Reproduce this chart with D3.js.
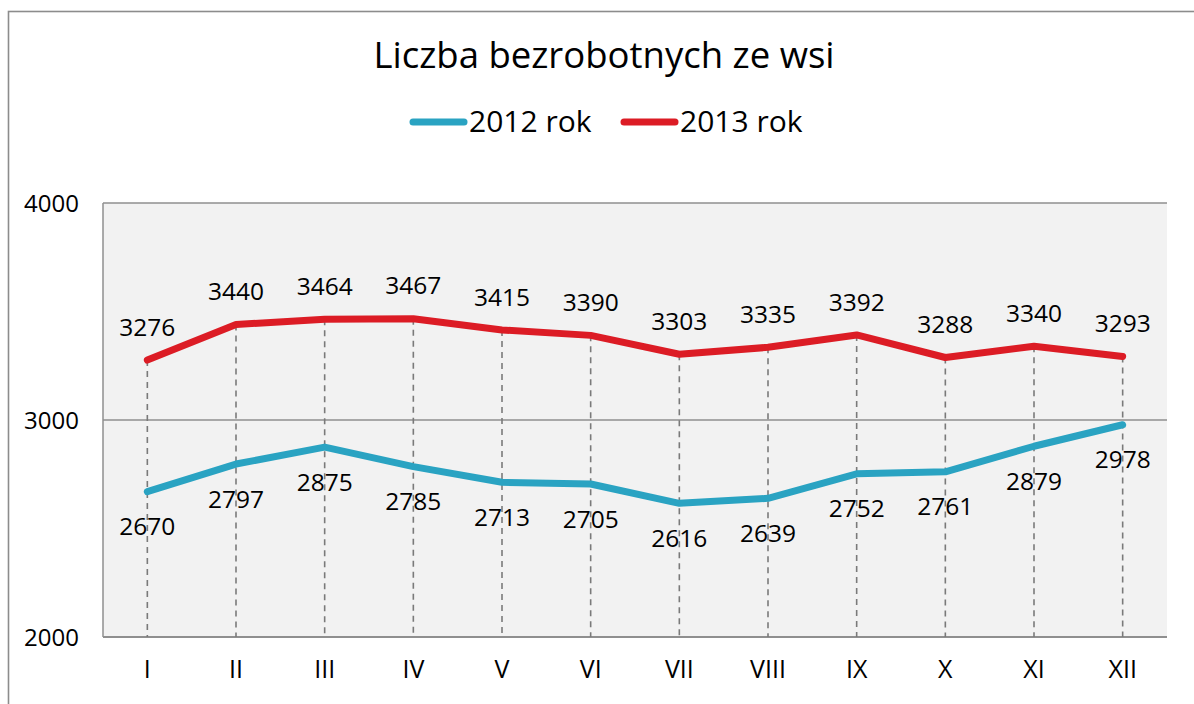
<!DOCTYPE html>
<html><head><meta charset="utf-8">
<script src="https://cdn.jsdelivr.net/npm/d3@7"></script>
<style>
html,body{margin:0;padding:0;background:#fff;}
svg{display:block;font-family:"Open Sans","Noto Sans",sans-serif;}
</style></head>
<body>
<svg id="c" width="1194" height="704"></svg>
<script>
const title = "Liczba bezrobotnych ze wsi";
const months = ["I","II","III","IV","V","VI","VII","VIII","IX","X","XI","XII"];
const series2012 = [2670,2797,2875,2785,2713,2705,2616,2639,2752,2761,2879,2978];
const series2013 = [3276,3440,3464,3467,3415,3390,3303,3335,3392,3288,3340,3293];
const seriesNames = ["2012 rok","2013 rok"];
const yTicks = [2000,3000,4000];

const colors = ["#2aa3c2","#dc1c25"];
const svg = d3.select("#c");

// outer frame
svg.append("rect").attr("x",8.5).attr("y",11.5).attr("width",1400).attr("height",900)
  .attr("fill","none").attr("stroke","#8c8c8c").attr("stroke-width",1.6);

const L=103,R=1167,T=203,B=637;
const x = d3.scaleBand().domain(months).range([L,R]).padding(0);
const cx = m => x(m)+x.bandwidth()/2;
const y = d3.scaleLinear().domain([2000,4000]).range([B,T]);

// plot background
svg.append("rect").attr("x",L).attr("y",T).attr("width",R-L).attr("height",B-T).attr("fill","#f2f2f2");

// gridlines
svg.append("g").selectAll("line").data(yTicks.filter(t=>t>2000)).join("line")
  .attr("x1",L).attr("x2",R).attr("y1",d=>y(d)).attr("y2",d=>y(d))
  .attr("stroke","#8f8f8f").attr("stroke-width",1.5);

// left border & bottom axis
svg.append("line").attr("x1",L).attr("x2",L).attr("y1",T).attr("y2",B).attr("stroke","#8f8f8f").attr("stroke-width",1.5);
svg.append("line").attr("x1",L).attr("x2",R).attr("y1",B).attr("y2",B).attr("stroke","#8f8f8f").attr("stroke-width",2);

// drop lines
const topVals = months.map((m,i)=>Math.max(series2012[i],series2013[i]));
svg.append("g").selectAll("line").data(months).join("line")
  .attr("x1",d=>cx(d)).attr("x2",d=>cx(d))
  .attr("y1",(d,i)=>y(topVals[i])).attr("y2",B)
  .attr("stroke","#7a7a7a").attr("stroke-width",1.6).attr("stroke-dasharray","6,5");

// y axis labels
const yAxis = d3.axisLeft(y).tickValues(yTicks).tickFormat(d3.format("d")).tickSize(0).tickPadding(0);
const ya = svg.append("g").attr("transform","translate(79,0)").call(yAxis);
ya.select(".domain").remove();
ya.selectAll("text").attr("font-size",24).attr("fill","#000").attr("font-family","Open Sans").attr("dy","0.35em");

// x axis labels
const xAxis = d3.axisBottom(x).tickSize(0).tickPadding(0);
const xa = svg.append("g").attr("transform",`translate(0,${B})`).call(xAxis);
xa.select(".domain").remove();
xa.selectAll("text").attr("font-size",25).attr("fill","#000").attr("font-family","Open Sans").attr("y",32).attr("dy","0.35em");

// lines
const line = d3.line().x((d,i)=>cx(months[i])).y(d=>y(d));
[series2012,series2013].forEach((s,k)=>{
  svg.append("path").datum(s).attr("d",line).attr("fill","none")
    .attr("stroke",colors[k]).attr("stroke-width",7).attr("stroke-linecap","round").attr("stroke-linejoin","round");
});

// data labels
svg.append("g").selectAll("text").data(series2013).join("text")
  .attr("x",(d,i)=>cx(months[i])).attr("y",d=>y(d)-33).attr("dy","0.35em")
  .attr("text-anchor","middle").attr("font-size",24.5).text(d=>d);
svg.append("g").selectAll("text").data(series2012).join("text")
  .attr("x",(d,i)=>cx(months[i])).attr("y",d=>y(d)+35).attr("dy","0.35em")
  .attr("text-anchor","middle").attr("font-size",24.5).text(d=>d);

// title
svg.append("text").attr("x",604).attr("y",55).attr("dy","0.35em").attr("text-anchor","middle")
  .attr("font-size",36.5).text(title);

// legend
const leg = [{x:410},{x:621}];
seriesNames.forEach((n,k)=>{
  const g = svg.append("g");
  g.append("line").attr("x1",leg[k].x+3).attr("x2",leg[k].x+54).attr("y1",122).attr("y2",122)
    .attr("stroke",colors[k]).attr("stroke-width",7).attr("stroke-linecap","round");
  g.append("text").attr("x",leg[k].x+59).attr("y",121).attr("dy","0.35em").attr("font-size",30).text(n);
});
</script>
</body></html>
